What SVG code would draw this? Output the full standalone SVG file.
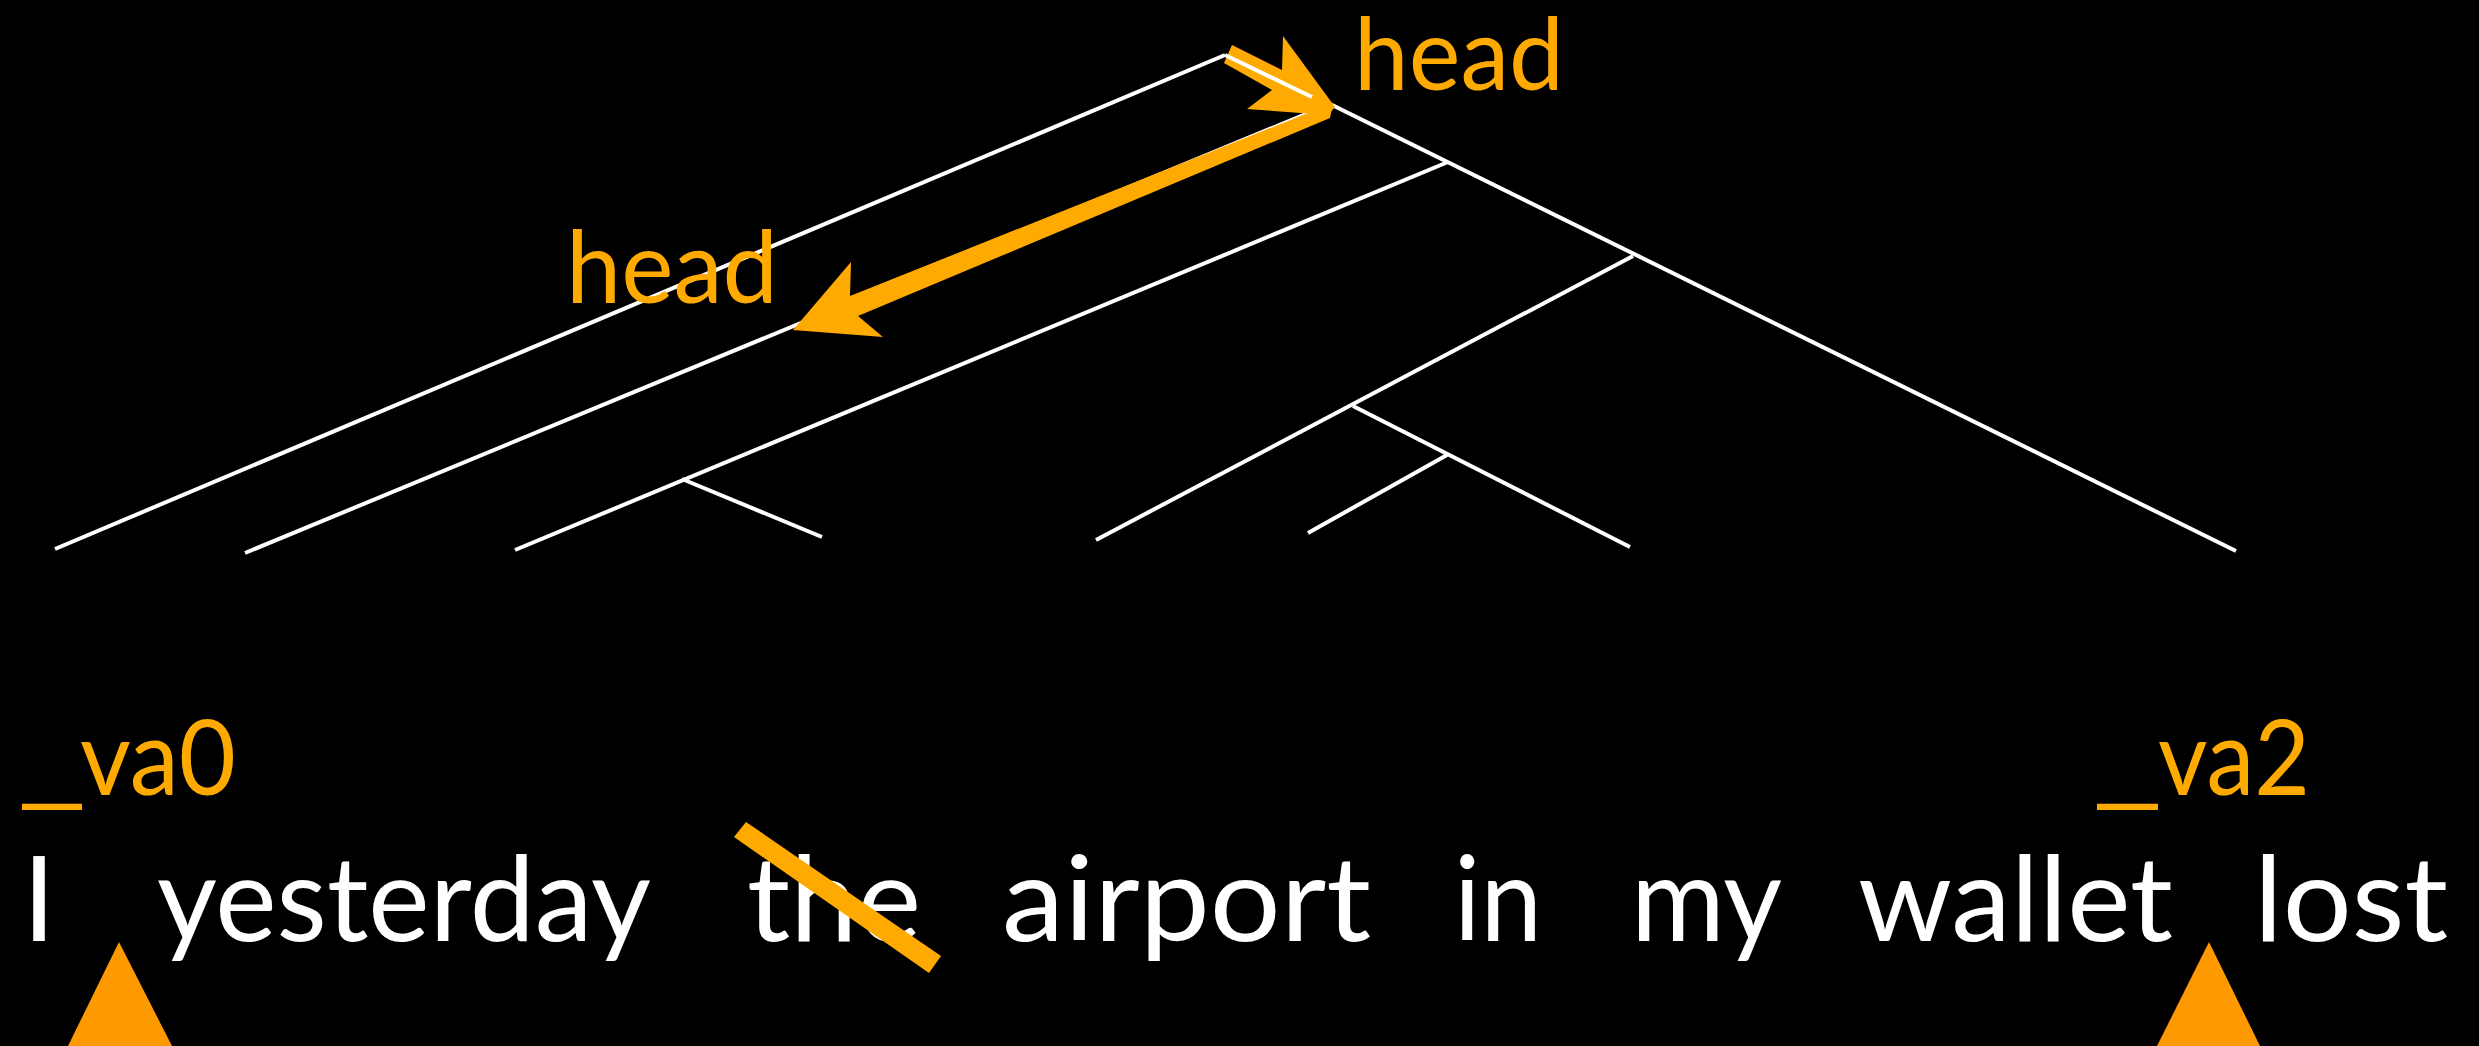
<svg xmlns="http://www.w3.org/2000/svg" width="2479" height="1046" viewBox="0 0 2479 1046">
<style>
.edge{stroke:#FFFFFF;stroke-width:4;fill:none;stroke-linecap:butt}
.word{font-family:Lato,"Open Sans","Liberation Sans",sans-serif;font-size:118px;fill:#FFFFFF}
.lab{font-family:Lato,"Open Sans","Liberation Sans",sans-serif;font-size:100px;fill:#FFAA00}
.var{font-family:Lato,"Open Sans","Liberation Sans",sans-serif;font-size:104px;fill:#FFAA00}
.orange{fill:#FFAA00}
.tri{fill:#FF9900}
</style>
<rect x="0" y="0" width="2479" height="1046" fill="#000000"/>
<g id="connectors">
  <line class="edge" x1="55" y1="549" x2="1225" y2="55"/>
  <line class="edge" x1="1330" y1="104" x2="245" y2="553"/>
  <line class="edge" x1="1322" y1="100" x2="2236" y2="551"/>
  <line class="edge" x1="1448" y1="162" x2="515" y2="550"/>
  <line class="edge" x1="682" y1="479" x2="822" y2="537"/>
  <line class="edge" x1="1633" y1="256" x2="1096" y2="540"/>
  <line class="edge" x1="1353" y1="406" x2="1630" y2="547"/>
  <line class="edge" x1="1447" y1="455" x2="1308" y2="533"/>
</g>
<g id="head-arrows">
  <polygon id="arrow-head-lower" class="orange" points="1333,103 850,296 851,262 793,330 883,337 858,316 1330,118"/>
  <polygon id="arrow-head-upper" class="orange" points="1232,45 1282,70 1283,36 1335,107 1328,115 1247,109 1272,90 1224,63"/>
  <line class="edge" x1="1225" y1="55" x2="1312" y2="97"/>
</g>
<g id="label-head-top"><text class="lab" x="1354" y="90" textLength="210" lengthAdjust="spacingAndGlyphs">head</text></g>
<g id="label-head-left"><text class="lab" x="566" y="303" textLength="212" lengthAdjust="spacingAndGlyphs">head</text></g>
<g id="label-va0"><text class="var" y="795"><tspan x="17" textLength="70" lengthAdjust="spacingAndGlyphs">_</tspan><tspan x="80" textLength="156" lengthAdjust="spacingAndGlyphs">va0</tspan></text></g>
<g id="label-va2"><text class="var" y="795"><tspan x="2092" textLength="71" lengthAdjust="spacingAndGlyphs">_</tspan><tspan x="2158" textLength="152" lengthAdjust="spacingAndGlyphs">va2</tspan></text></g>
<g id="word-I"><text class="word" x="39" y="941" text-anchor="middle">I</text></g>
<g id="word-yesterday"><text class="word" x="157" y="941" textLength="494" lengthAdjust="spacingAndGlyphs">yesterday</text></g>
<g id="word-the"><text class="word" x="747" y="941" textLength="174" lengthAdjust="spacingAndGlyphs">the</text></g>
<g id="word-airport"><text class="word" x="1002" y="941" textLength="369" lengthAdjust="spacingAndGlyphs">airport</text></g>
<g id="word-in"><text class="word" x="1454" y="941" textLength="88" lengthAdjust="spacingAndGlyphs">in</text></g>
<g id="word-my"><text class="word" x="1631" y="941" textLength="151" lengthAdjust="spacingAndGlyphs">my</text></g>
<g id="word-wallet"><text class="word" x="1858" y="941" textLength="315" lengthAdjust="spacingAndGlyphs">wallet</text></g>
<g id="word-lost"><text class="word" x="2254" y="941" textLength="194" lengthAdjust="spacingAndGlyphs">lost</text></g>
<g id="strike-the"><polygon class="orange" points="746,822 734,837 929,973 941,956"/></g>
<g id="pointer-va0"><polygon class="tri" points="119,942 68,1046 172,1046"/></g>
<g id="pointer-va2"><polygon class="tri" points="2209,942 2157,1046 2260,1046"/></g>
</svg>
